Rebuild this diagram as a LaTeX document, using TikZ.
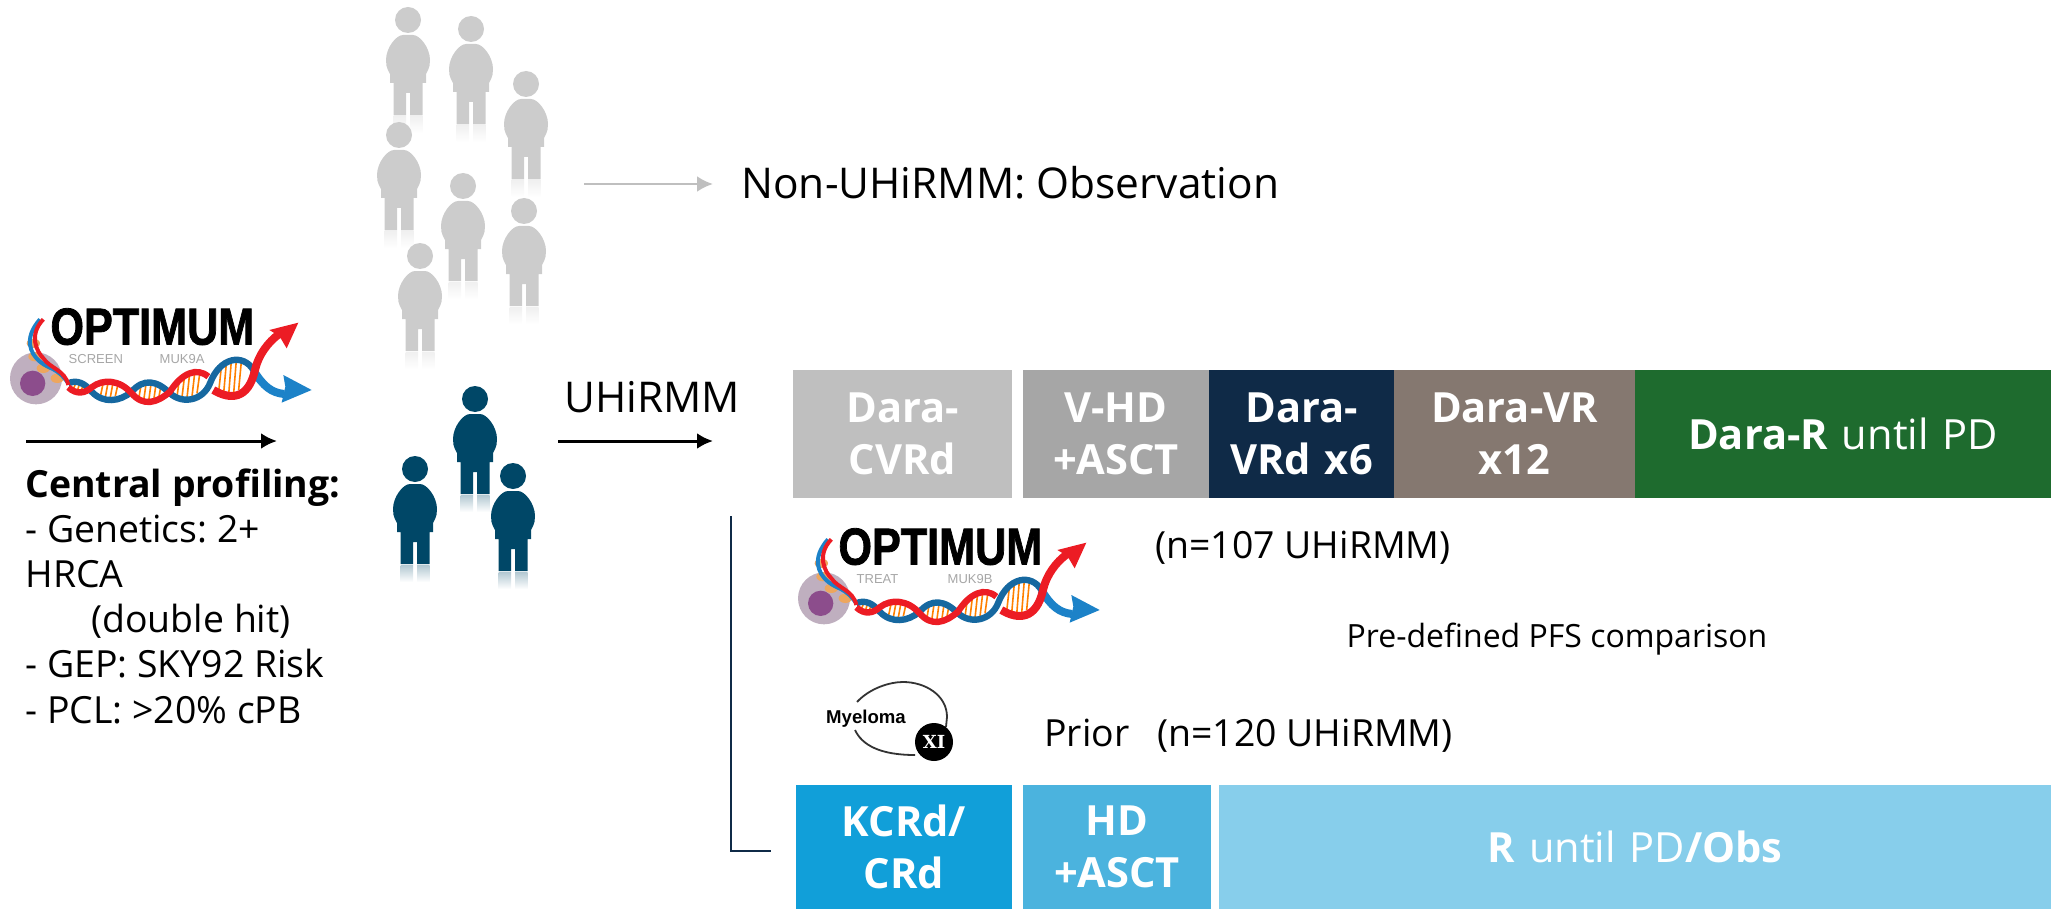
\documentclass[tikz,border=0pt]{standalone}
\usepackage{fontspec}
\usepackage{graphicx}
\setmainfont{Open Sans}
\newfontfamily\logofont{Liberation Sans}
\newfontfamily\logoheavy[FakeBold=1.6]{Liberation Sans Bold}
\newfontfamily\xifont{DejaVu Serif}
\usetikzlibrary{arrows,arrows.meta,calc,positioning}
\definecolor{crowdgray}{HTML}{CCCCCC}
\definecolor{patientblue}{HTML}{004767}
\definecolor{dnared}{HTML}{EC1C24}
\definecolor{dnablue}{HTML}{1C82C8}
\definecolor{navyarm}{HTML}{0F2A47}
\definecolor{vrarm}{HTML}{857870}
\definecolor{greenarm}{HTML}{1E6B2E}
\definecolor{kcrdarm}{HTML}{119FD9}
\definecolor{hdarm}{HTML}{4BB3DE}
\definecolor{obsarm}{HTML}{87CEEB}
\tikzstyle{arm}=[inner sep=0pt,outer sep=0pt,minimum height=64pt,text=white,align=center,font=\fontsize{20.8}{26}\selectfont\bfseries]
\tikzstyle{lab}=[inner sep=0pt,font=\fontsize{21.2}{26}\selectfont]
\tikzstyle{note}=[inner sep=0pt,font=\fontsize{18.7}{24}\selectfont]
\tikzstyle{flow}=[->,line width=1.5pt]
\tikzstyle{small}=[inner sep=0pt,anchor=west,text=gray!70,font=\logofont\fontsize{6.5}{7}\selectfont]
\tikzset{
  pics/person/.style={code={
    \fill[#1] (0,0) circle (13);
    \fill[#1] (-18,63) -- (-18,54) .. controls (-22,47) and (-22,44) .. (-22,40) .. controls (-22,28) and (-12,15) .. (-5,15)
      -- (5,15) .. controls (12,15) and (22,28) .. (22,40) .. controls (22,44) and (22,47) .. (18,54) -- (18,63) -- (14.5,63)
      -- (14.5,95) -- (2,95) -- (2,73) -- (-2,73) -- (-2,95) -- (-14.5,95) -- (-14.5,63) -- cycle;
    \shade[top color=#1!30!white,bottom color=white] (-14.5,96) rectangle (-2,113);
    \shade[top color=#1!30!white,bottom color=white] (2,96) rectangle (14.5,113);
  }},
  pics/logo/.style 2 args={code={
    \fill[violet!25!gray!50!white] (108,295) circle (78);
    \fill[violet!55!gray!90!white] (98,310) circle (38);
    % rungs of the helix
    \foreach \xa/\ya/\yb in {222/312/334,235/310/336,248/310/330,305/312/350,320/308/352,335/308/352,350/312/348,420/310/358,435/306/362,450/304/364,465/306/362,480/312/354,535/292/350,550/285/352,565/280/354,580/280/350,595/282/340,660/262/335,675/250/340,690/242/345,705/240/340,720/245/330}
      \draw[orange,line width=.8pt] (\xa+4,\ya) -- (\xa-4,\yb);
    \foreach \xa/\ya in {100/190,105/230,130/265,172/295}
      \fill[orange!60!brown!70!white] (\xa,\ya) ellipse (20 and 14);
    \draw[dnablue,line width=2pt] (120,118) .. controls (70,175) and (90,220) .. (120,245) .. controls (150,270) and (170,260) .. (205,310);
    \draw[dnablue!80!black,line width=3.2pt] (205,310) .. controls (230,298) and (255,310) .. (275,335) .. controls (310,372) and (360,365) .. (395,335) .. controls (430,295) and (470,300) .. (510,340) .. controls (550,375) and (610,360) .. (630,310) .. controls (660,230) and (730,220) .. (760,270);
    \draw[dnablue,line width=4pt] (760,270) .. controls (790,320) and (815,338) .. (852,342);
    \fill[dnablue] (935,330) -- (850,285) -- (856,320) -- (845,368) -- cycle;
    \draw[dnared,line width=2pt] (130,118) .. controls (85,165) and (110,215) .. (130,235) .. controls (150,265) and (195,270) .. (205,315);
    \draw[dnared,line width=3.2pt] (205,322) .. controls (230,345) and (255,340) .. (275,322) .. controls (310,295) and (360,300) .. (395,340) .. controls (430,380) and (470,370) .. (510,335) .. controls (545,280) and (590,260) .. (625,290);
    \draw[dnared,line width=4pt] (640,330) .. controls (690,360) and (745,360) .. (765,270) .. controls (775,225) and (805,185) .. (838,162);
    \fill[dnared] (895,128) -- (808,150) -- (838,168) -- (860,205) -- cycle;
    \node[inner sep=0pt] (word) at (457,140) {\logoheavy\fontsize{26}{26}\selectfont\scalebox{.83}[1]{OPTIMUM}};
    \node[small] (trial) at (205,237) {#1};
    \node[small] (muk) at (478,237) {#2};
  }},
}

\begin{document}
\frenchspacing
\begin{tikzpicture}[
      >={Latex[length=8pt,width=8pt]},
      x=.5pt,y=-.5pt
    ]
      \useasboundingbox (0,0) rectangle (2059,909);

      % screening column
      \pic[scale=1/3] (screen) at (0,280) {logo={SCREEN}{MUK9A}};
      \coordinate (profstart) at (26,441);
      \coordinate (profend) at (277,441);
      \draw[flow] (profstart) -- (profend);
      \node[inner sep=0pt,anchor=north west,align=left,font=\fontsize{18.7}{22.6}\selectfont] (prof) at (25,468) {\textbf{Central profiling:}\\- Genetics: 2+\\HRCA\\\hspace{33pt}(double hit)\\- GEP: SKY92 Risk\\- PCL: >20\% cPB};

      % people
      \foreach \px/\py in {408/20,471/29,526/84,399/135,463/186,524/211,420/256}
        \pic at (\px,\py) {person=crowdgray};
      \foreach \px/\py in {475/399,415/469,513/476}
        \pic at (\px,\py) {person=patientblue};

      \coordinate (nonstart) at (584,184);
      \coordinate (nonend) at (713,184);
      \node[lab,anchor=west] (non) at (741,183) {Non-UHiRMM: Observation};
      \draw[flow,black!25,line width=1.4pt] (nonstart) -- (nonend);

      \node[lab,anchor=west] (uhi) at (564,397) {UHiRMM};
      \coordinate (uhistart) at (558,441);
      \coordinate (uhiend) at (713,441);
      \draw[flow] (uhistart) -- (uhiend);

      % treatment arm
      \node [arm,fill=black!25,text width=109.5pt] (cvrd) at (902.5,434) {Dara-\\CVRd};
      \node [arm,fill=black!35,text width=93pt,right=5.5pt of cvrd] (vhd) {V-HD\\+ASCT};
      \node [arm,fill=navyarm,text width=92.5pt,right=0pt of vhd] (vrd) {Dara-\\VRd x6};
      \node [arm,fill=vrarm,text width=120.5pt,right=0pt of vrd] (vr) {Dara-VR\\x12};
      \node [arm,fill=greenarm,text width=208pt,right=0pt of vr] (rpd) {Dara-R \mdseries until PD};

      \pic[scale=1/3] (treat) at (788,500) {logo={TREAT}{MUK9B}};
      \node[note,anchor=west] (nnew) at (1155,548) {(n=107 UHiRMM)};
      \node[inner sep=0pt,font=\fontsize{16}{18}\selectfont] (pfs) at (1557,639) {Pre-defined PFS comparison};

      % prior trial
      \node[inner sep=0pt] (myel) at (866,719) {\logofont\bfseries\fontsize{9.3}{10}\selectfont Myeloma};
      \draw[line width=.9pt,black!80] (857,702) .. controls (870,688) and (890,682) .. (903,682) .. controls (925,682) and (947,695) .. (947,717) -- (946,727);
      \draw[line width=.9pt,black!80] (855,730) .. controls (862,745) and (880,755) .. (915,755);
      \node[circle,fill=black,inner sep=0pt,minimum size=19pt,text=white] (xi) at (934,742) {\xifont\bfseries\fontsize{9}{10}\selectfont XI};
      \node[note,anchor=west] (prior) at (1044,733) {Prior};
      \node[note,anchor=west] (nold) at (1157,736) {(n=120 UHiRMM)};

      \node [arm,minimum height=62pt,fill=kcrdarm,text width=108pt] (kcrd) at (904,847) {KCRd/\\CRd};
      \node [arm,minimum height=62pt,fill=hdarm,text width=94pt,right=5.5pt of kcrd] (hd) {HD\\+ASCT};
      \node [arm,minimum height=62pt,fill=obsarm,text width=416pt,right=4pt of hd] (obs) {R \mdseries until PD\bfseries/Obs};

      % bracket between the two arms
      \coordinate (brtop) at (731,516);
      \coordinate (brend) at (771,851);
      \draw[navyarm,line width=1pt] (brtop) |- (brend);
      \end{tikzpicture}
\end{document}
